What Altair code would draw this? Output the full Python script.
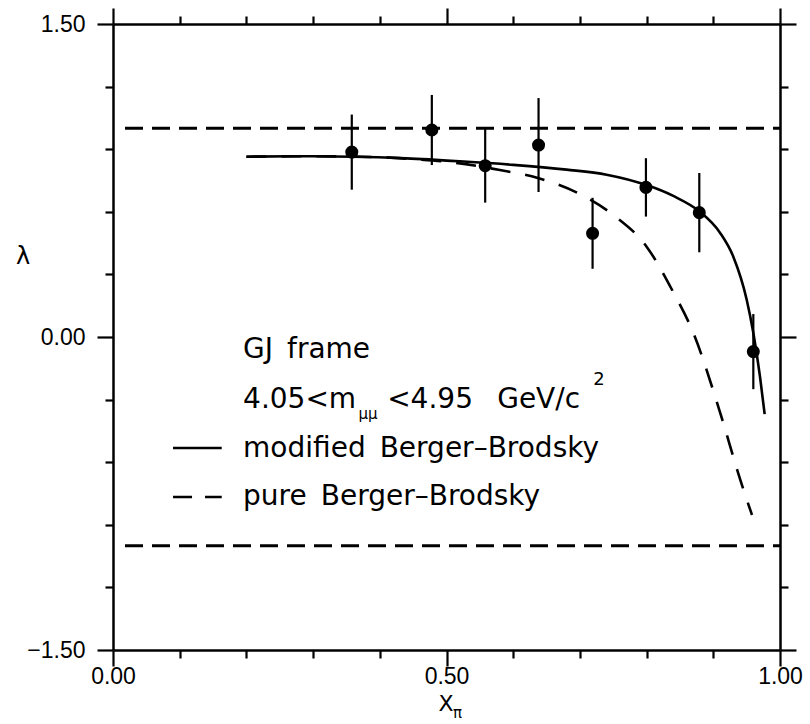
import altair as alt
import pandas as pd

# ---- measured decay-angle parameter lambda versus x_pi ----
pt_x = [0.358, 0.478, 0.558, 0.638, 0.719, 0.799, 0.879, 0.960]
pt_y = [0.886, 0.992, 0.821, 0.920, 0.497, 0.717, 0.596, -0.070]
pt_err = [0.180, 0.168, 0.177, 0.225, 0.170, 0.140, 0.190, 0.180]

# ---- model curves ----
mod_x = [0.20, 0.28, 0.36, 0.44, 0.52, 0.60, 0.68, 0.74, 0.80, 0.84,
         0.88, 0.91, 0.93, 0.95, 0.96, 0.97, 0.977]
mod_y = [0.864, 0.866, 0.864, 0.856, 0.842, 0.825, 0.802, 0.778, 0.728, 0.676,
         0.600, 0.500, 0.385, 0.180, 0.020, -0.190, -0.370]

pure_x = [0.20, 0.30, 0.40, 0.45, 0.505, 0.58, 0.637, 0.70, 0.75, 0.80,
          0.84, 0.87, 0.91, 0.94, 0.958]
pure_y = [0.864, 0.866, 0.862, 0.852, 0.838, 0.800, 0.762, 0.685, 0.585, 0.433,
          0.215, 0.020, -0.360, -0.680, -0.853]

# physical bounds |lambda| <= 1
bound_levels = [1.0, -1.0]
bound_start, bound_end = 0.018, 1.0

# axis ticks (labels only on the major ones)
x_ticks = [0.0, 0.1, 0.2, 0.3, 0.4, 0.5, 0.6, 0.7, 0.8, 0.9, 1.0]
y_ticks = [-1.5, -1.2, -0.9, -0.6, -0.3, 0.0, 0.3, 0.6, 0.9, 1.2, 1.5]

TICK_FONT = "Liberation Sans"
TEXT_FONT = "DejaVu Sans"
INK = "black"
GAP = "\u2002"  # wide word gap of the plotter lettering

xs = alt.Scale(domain=[0, 1], nice=False, zero=False)
ys = alt.Scale(domain=[-1.5, 1.5], nice=False, zero=False)

major_x = "abs(datum.value*2 - round(datum.value*2)) < 0.001"
major_y = "abs(datum.value/1.5 - round(datum.value/1.5)) < 0.001"


def frame_axis(orient, values, major, labels, pad):
    return alt.Axis(
        orient=orient, values=values, title=None, grid=False,
        domainColor=INK, domainWidth=2.5,
        tickColor=INK, tickWidth=2.2,
        tickSize={"condition": {"test": major, "value": 16}, "value": 8},
        labels=labels,
        labelExpr=f"({major}) ? format(datum.value, '.2f') : ''",
        labelFont=TICK_FONT, labelFontSize=23, labelColor=INK,
        labelPadding=pad, labelFlush=False, labelOverlap=False,
    )


pts = pd.DataFrame({"x": pt_x, "y": pt_y, "err": pt_err})
pts["lo"] = pts["y"] - pts["err"]
pts["hi"] = pts["y"] + pts["err"]

mod = pd.DataFrame({"x": mod_x, "y": mod_y})
pure = pd.DataFrame({"x": pure_x, "y": pure_y})
bounds = pd.DataFrame({"y": bound_levels, "x": bound_start, "x2": bound_end})

# frame: bottom + left axes carry the labels, top + right only ticks
frame_a = alt.Chart(pts).mark_point(opacity=0).encode(
    x=alt.X("x:Q", scale=xs, axis=frame_axis("bottom", x_ticks, major_x, True, -1)),
    y=alt.Y("y:Q", scale=ys, axis=frame_axis("left", y_ticks, major_y, True, 12)),
)
frame_b = alt.Chart(pts).mark_point(opacity=0).encode(
    x=alt.X("x:Q", scale=xs, axis=frame_axis("top", x_ticks, major_x, False, 4)),
    y=alt.Y("y:Q", scale=ys, axis=frame_axis("right", y_ticks, major_y, False, 4)),
)

bound_lines = alt.Chart(bounds).mark_rule(
    color=INK, strokeWidth=3, strokeDash=[18, 9]
).encode(
    x=alt.X("x:Q", scale=xs, axis=None), x2="x2:Q",
    y=alt.Y("y:Q", scale=ys, axis=None),
)

mod_line = alt.Chart(mod).mark_line(
    color=INK, strokeWidth=2.6, interpolate="monotone"
).encode(
    x=alt.X("x:Q", scale=xs, axis=None),
    y=alt.Y("y:Q", scale=ys, axis=None),
)

pure_line = alt.Chart(pure).mark_line(
    color=INK, strokeWidth=2.6, interpolate="monotone", strokeDash=[20, 15]
).encode(
    x=alt.X("x:Q", scale=xs, axis=None),
    y=alt.Y("y:Q", scale=ys, axis=None),
)

err_bars = alt.Chart(pts).mark_rule(color=INK, strokeWidth=2.2).encode(
    x=alt.X("x:Q", scale=xs, axis=None),
    y=alt.Y("lo:Q", scale=ys, axis=None), y2="hi:Q",
)

dots = alt.Chart(pts).mark_circle(color=INK, opacity=1, size=170).encode(
    x=alt.X("x:Q", scale=xs, axis=None),
    y=alt.Y("y:Q", scale=ys, axis=None),
)

# ---- in-plot key ----
key_text = pd.DataFrame({
    "x": [0.195, 0.195, 0.368, 0.411, 0.576, 0.195, 0.195],
    "y": [-0.102, -0.340, -0.392, -0.340, -0.340, -0.574, -0.805],
    "t": [f"GJ{GAP}frame", "4.05<m", "μμ", "<4.95", "GeV/c",
          f"modified{GAP}Berger\u2013Brodsky", f"pure{GAP}Berger\u2013Brodsky"],
    "s": [28, 28, 15, 28, 28, 28, 28],
})
key_sup = pd.DataFrame({"x": [0.720], "y": [-0.228], "t": ["2"]})

key_labels = alt.Chart(key_text).mark_text(
    font=TEXT_FONT, color=INK, align="left", baseline="alphabetic"
).encode(
    x=alt.X("x:Q", scale=xs, axis=None),
    y=alt.Y("y:Q", scale=ys, axis=None),
    text="t:N",
    size=alt.Size("s:Q", scale=None, legend=None),
)
key_super = alt.Chart(key_sup).mark_text(
    font=TEXT_FONT, color=INK, align="left", baseline="alphabetic", fontSize=18
).encode(
    x=alt.X("x:Q", scale=xs, axis=None),
    y=alt.Y("y:Q", scale=ys, axis=None),
    text="t:N",
)

key_x0, key_x1 = 0.09, 0.163
key_solid = alt.Chart(pd.DataFrame({"x": [key_x0], "x2": [key_x1], "y": [-0.532]})).mark_rule(
    color=INK, strokeWidth=2.6
).encode(
    x=alt.X("x:Q", scale=xs, axis=None), x2="x2:Q",
    y=alt.Y("y:Q", scale=ys, axis=None),
)
key_dash = alt.Chart(pd.DataFrame({"x": [key_x0], "x2": [key_x1], "y": [-0.767]})).mark_rule(
    color=INK, strokeWidth=2.6, strokeDash=[19, 13]
).encode(
    x=alt.X("x:Q", scale=xs, axis=None), x2="x2:Q",
    y=alt.Y("y:Q", scale=ys, axis=None),
)

# ---- axis titles ----
one = pd.DataFrame({"k": [0]})
title_y = alt.Chart(one).mark_text(
    text="λ", font=TEXT_FONT, fontSize=24, color=INK, align="center", baseline="middle"
).encode(x=alt.value(-90), y=alt.value(233))
title_x = alt.Chart(one).mark_text(
    text="X", font=TEXT_FONT, fontSize=22, color=INK, align="center", baseline="middle"
).encode(x=alt.value(333), y=alt.value(680))
title_x_sub = alt.Chart(one).mark_text(
    text="π", font=TEXT_FONT, fontSize=15, color=INK, align="left", baseline="middle"
).encode(x=alt.value(340), y=alt.value(689))

chart = alt.layer(
    frame_a, frame_b, bound_lines, pure_line, mod_line, err_bars, dots,
    key_labels, key_super, key_solid, key_dash, title_y, title_x, title_x_sub,
).resolve_axis(
    x="independent", y="independent"
).properties(
    width=667, height=626,
    autosize=alt.AutoSizeParams(type="none"),
    padding={"left": 113, "top": 24, "right": 30, "bottom": 74},
    background="white",
).configure_view(stroke=None)

chart.save("out.html", embed_options={"renderer": "svg", "actions": False})
